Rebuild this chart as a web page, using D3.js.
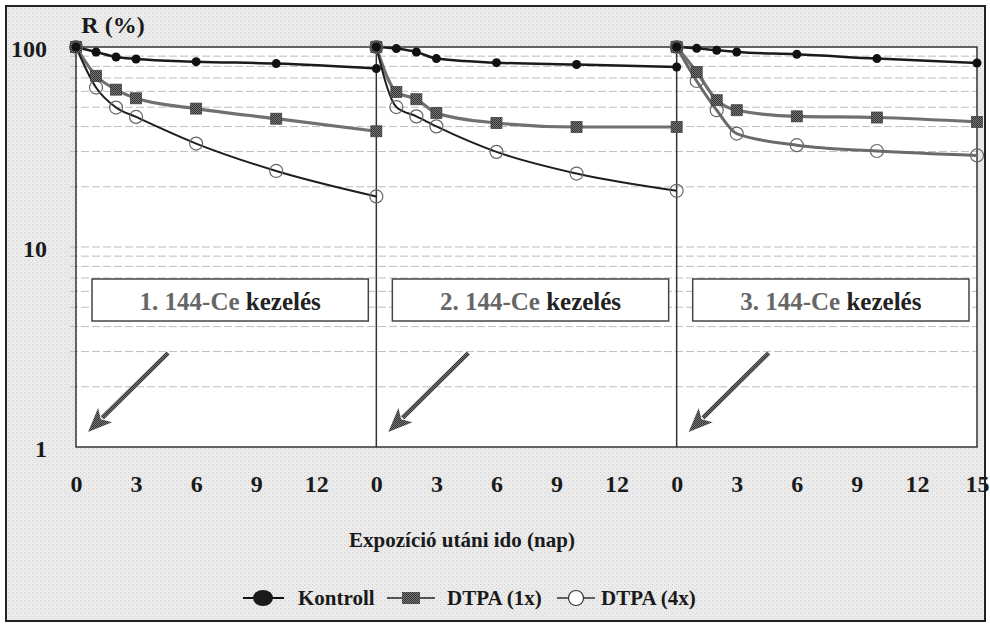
<!DOCTYPE html>
<html><head><meta charset="utf-8">
<script src="https://cdn.jsdelivr.net/npm/d3@7"></script>
<style>body{margin:0;background:#fff}svg{display:block}</style>
</head><body><svg id="c" width="990" height="624"></svg>
<script>
// ---- data ----
const days = [0, 1, 2, 3, 6, 10, 15];
const panelStart = [0, 15, 30];
const kontroll = [
  [100, 94.4, 89.1, 87.1, 84.5, 82.6, 78.0],
  [100, 98.2, 94.4, 87.5, 83.5, 81.7, 79.4],
  [100, 98.5, 96.3, 94.4, 92.0, 87.5, 83.2]
];
const dtpa1 = [
  [100, 71.8, 61.2, 55.4, 49.2, 43.8, 37.9],
  [100, 59.6, 54.8, 46.8, 41.7, 39.8, 39.8],
  [100, 75.0, 54.2, 48.3, 45.0, 44.4, 42.2]
];
const dtpa4 = [
  [100, 62.7, 49.8, 44.7, 32.9, 24.0, 17.9],
  [100, 50.1, 45.0, 40.1, 29.9, 23.3, 19.1],
  [100, 67.6, 48.3, 36.9, 32.3, 30.2, 28.7]
];
const seriesNames = ["Kontroll", "DTPA (1x)", "DTPA (4x)"];
const panelLabels = ["1. 144-Ce", "2. 144-Ce", "3. 144-Ce"];
const panelLabelTail = "kezelés";
const yTicks = [1, 10, 100];
const yMinor = [2,3,4,5,6,7,8,9,10,20,30,40,50,60,70,80,90];
const xTicks = [0,3,6,9,12,15,18,21,24,27,30,33,36,39,42,45];
const xTickLabels = ["0","3","6","9","12","0","3","6","9","12","0","3","6","9","12","15"];
const yTitle = "R (%)";
const xTitle = "Expozíció utáni ido (nap)";

// ---- layout ----
const svg = d3.select("#c");
const L = 76, R = 977, T = 47, B = 447;
const x = d3.scaleLinear().domain([0, 45]).range([L, R]);
const y = d3.scaleLog().domain([1, 100]).range([B, T]);
const serif = "'Liberation Serif','Times New Roman',serif";

const defs = svg.append("defs");
const pat = defs.append("pattern").attr("id","bgp").attr("width",4).attr("height",4).attr("patternUnits","userSpaceOnUse");
pat.append("rect").attr("width",4).attr("height",4).attr("fill","#ebebeb");
pat.append("rect").attr("x",0).attr("y",0).attr("width",1).attr("height",1).attr("fill","#cfcfcf");
pat.append("rect").attr("x",2).attr("y",2).attr("width",1).attr("height",1).attr("fill","#d8d8d8");
const sq = defs.append("pattern").attr("id","sqp").attr("width",2).attr("height",2).attr("patternUnits","userSpaceOnUse");
sq.append("rect").attr("width",2).attr("height",2).attr("fill","#777");
sq.append("rect").attr("width",1).attr("height",1).attr("fill","#333");
sq.append("rect").attr("x",1).attr("y",1).attr("width",1).attr("height",1).attr("fill","#333");

// outer frame
svg.append("rect").attr("x",6).attr("y",6).attr("width",979).attr("height",615)
  .attr("fill","url(#bgp)").attr("stroke","#222").attr("stroke-width",2);

// plot area
svg.append("rect").attr("x",L).attr("y",T).attr("width",R-L).attr("height",B-T)
  .attr("fill","#fff");

// gridlines
svg.append("g").selectAll("line").data(yMinor).join("line")
  .attr("x1", 70).attr("x2", R).attr("y1", d => y(d)).attr("y2", d => y(d))
  .attr("stroke", "#bdbdbd").attr("stroke-width", 1).attr("stroke-dasharray", "8,3");

// plot frame and panel separators
svg.append("rect").attr("x",L).attr("y",T).attr("width",R-L).attr("height",B-T)
  .attr("fill","none").attr("stroke","#333").attr("stroke-width",1.5);
svg.append("g").selectAll("line").data(panelStart.slice(1)).join("line")
  .attr("x1", d => x(d)).attr("x2", d => x(d)).attr("y1", T).attr("y2", B)
  .attr("stroke","#333").attr("stroke-width",1.5);

// axes
const xa = svg.append("g").attr("transform", `translate(0,${B})`)
  .call(d3.axisBottom(x).tickValues(xTicks).tickSize(0).tickPadding(28)
    .tickFormat((d,i) => xTickLabels[i]));
xa.select(".domain").remove();
xa.selectAll("text").attr("font-family", serif).attr("font-size", 24)
  .attr("font-weight","bold").attr("fill","#1a1a1a");

const ya = svg.append("g").attr("transform", `translate(47,2)`)
  .call(d3.axisLeft(y).tickValues(yTicks).tickSize(0).tickPadding(0).tickFormat(d3.format("d")));
ya.select(".domain").remove();
ya.selectAll("text").attr("font-family", serif).attr("font-size", 24)
  .attr("font-weight","bold").attr("fill","#1a1a1a");

svg.append("text").attr("x", 113).attr("y", 33).attr("text-anchor","middle")
  .attr("font-family", serif).attr("font-size", 24).attr("font-weight","bold")
  .attr("fill","#1a1a1a").text(yTitle);

// panel text boxes
const boxG = svg.append("g");
panelStart.forEach((p, i) => {
  const x0 = x(p + 0.8), x1 = x(p + 14.6);
  boxG.append("rect").attr("x", x0).attr("y", 279).attr("width", x1 - x0).attr("height", 42)
    .attr("fill","#fff").attr("stroke","#444").attr("stroke-width",1.5);
  const t = boxG.append("text").attr("x", (x0 + x1) / 2).attr("y", 310).attr("text-anchor","middle")
    .attr("font-family", serif).attr("font-size", 25).attr("font-weight","bold");
  t.append("tspan").attr("fill","#666").text(panelLabels[i] + " ");
  t.append("tspan").attr("fill","#222").text(panelLabelTail);
});

// arrows
const arrG = svg.append("g");
panelStart.forEach(p => {
  const sx = x(p + 4.6), sy = 353, tx = x(p + 0.6), ty = 432;
  const dx = tx - sx, dy = ty - sy, len = Math.hypot(dx, dy);
  const ux = dx / len, uy = dy / len;
  const hl = 24, hw = 10;
  const bx = tx - ux * hl, by = ty - uy * hl;
  arrG.append("line").attr("x1", sx).attr("y1", sy).attr("x2", bx + ux*4).attr("y2", by + uy*4)
    .attr("stroke", "url(#sqp)").attr("stroke-width", 4.5);
  arrG.append("path").attr("d", `M${tx},${ty}L${bx - uy*hw},${by + ux*hw}L${bx + ux*6},${by + uy*6}L${bx + uy*hw},${by - ux*hw}Z`)
    .attr("fill", "url(#sqp)");
});

// series lines
const line = d3.line().x(d => x(d[0])).y(d => y(d[1])).curve(d3.curveMonotoneX);
const pts = (arr, pi) => days.map((d, j) => [panelStart[pi] + d, arr[pi][j]]);
const lg = svg.append("g");
const dtpa4Col = ["#1e1e1e", "#1e1e1e", "#6a6a6a"];
const dtpa4W = [2, 2, 3];
panelStart.forEach((p, i) => {
  lg.append("path").attr("d", line(pts(dtpa1, i))).attr("fill","none")
    .attr("stroke","#707070").attr("stroke-width",3.2);
  lg.append("path").attr("d", line(pts(dtpa4, i))).attr("fill","none")
    .attr("stroke", dtpa4Col[i]).attr("stroke-width", dtpa4W[i]);
  lg.append("path").attr("d", line(pts(kontroll, i))).attr("fill","none")
    .attr("stroke","#1a1a1a").attr("stroke-width",2.5);
});
// markers
panelStart.forEach((p, i) => {
  lg.append("g").selectAll("circle").data(pts(dtpa4, i)).join("circle")
    .attr("cx", d => x(d[0])).attr("cy", d => y(d[1])).attr("r", 6.5)
    .attr("fill","none").attr("stroke","#666").attr("stroke-width",1.2);
  lg.append("g").selectAll("rect").data(pts(dtpa1, i)).join("rect")
    .attr("x", d => x(d[0]) - 5.5).attr("y", d => y(d[1]) - 5.5).attr("width", 11).attr("height", 11)
    .attr("fill","url(#sqp)").attr("stroke","#444").attr("stroke-width",0.8);
  lg.append("g").selectAll("circle").data(pts(kontroll, i)).join("circle")
    .attr("cx", d => x(d[0])).attr("cy", d => y(d[1])).attr("r", 4.5)
    .attr("fill","#111");
});

// x title
svg.append("text").attr("x", 462).attr("y", 547).attr("text-anchor","middle")
  .attr("font-family", serif).attr("font-size", 21).attr("font-weight","bold")
  .attr("fill","#1a1a1a").text(xTitle);

// legend
const leg = svg.append("g");
const ly = 598;
// Kontroll
leg.append("line").attr("x1",243).attr("x2",284).attr("y1",ly).attr("y2",ly).attr("stroke","#111").attr("stroke-width",2);
leg.append("ellipse").attr("cx",263).attr("cy",ly).attr("rx",10).attr("ry",8).attr("fill","#1a1a1a");
leg.append("text").attr("x",298).attr("y",ly+7).text(seriesNames[0]);
// DTPA 1x
leg.append("line").attr("x1",387).attr("x2",435).attr("y1",ly).attr("y2",ly).attr("stroke","#555").attr("stroke-width",2);
leg.append("rect").attr("x",402).attr("y",ly-6).attr("width",18).attr("height",12).attr("fill","url(#sqp)");
leg.append("text").attr("x",447).attr("y",ly+7).text(seriesNames[1]);
// DTPA 4x
leg.append("line").attr("x1",557).attr("x2",595).attr("y1",ly).attr("y2",ly).attr("stroke","#333").attr("stroke-width",1.5);
leg.append("circle").attr("cx",576).attr("cy",ly).attr("r",7.5).attr("fill","#fff").attr("stroke","#333").attr("stroke-width",1.2);
leg.append("text").attr("x",601).attr("y",ly+7).text(seriesNames[2]);
leg.selectAll("text").attr("font-family", serif).attr("font-size", 21).attr("font-weight","bold").attr("fill","#1a1a1a");
</script></body></html>
